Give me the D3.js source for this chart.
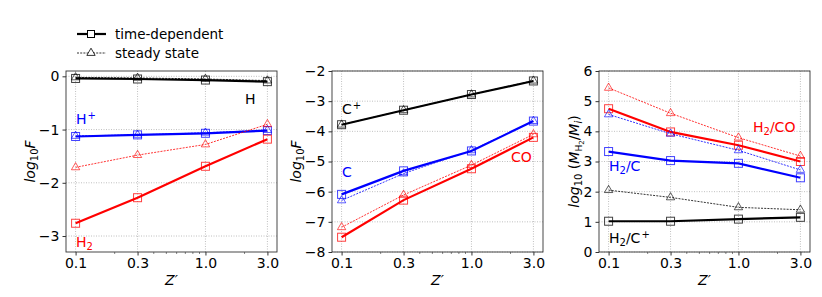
<!DOCTYPE html>
<html lang="en">
<head>
<meta charset="UTF-8">
<script src="https://cdn.jsdelivr.net/npm/d3@7"></script>
<style>
    body { margin: 0; background: white; }
    svg text { font-family: 'DejaVu Sans', sans-serif; }
    .grid line { stroke: #b0b0b0; stroke-width: 0.8px; stroke-dasharray: 1,1.5; }
</style>
</head>
<body>
<div id="chart"></div>
<script>
    // x values (Z')
    const zVals = [0.1, 0.3, 1.0, 3.0];
    const zTicks = ["0.1", "0.3", "1.0", "3.0"];

    // panel 1: log10 F of hydrogen species
    const H_td = [-0.04, -0.05, -0.07, -0.10];
    const H_ss = [-0.02, -0.03, -0.05, -0.08];
    const Hp_td = [-1.13, -1.10, -1.07, -1.02];
    const Hp_ss = [-1.12, -1.10, -1.06, -1.01];
    const H2_td = [-2.76, -2.28, -1.69, -1.18];
    const H2_ss = [-1.71, -1.48, -1.28, -0.90];

    // panel 2: log10 F of carbon species
    const Cp_td = [-3.78, -3.30, -2.78, -2.33];
    const Cp_ss = [-3.78, -3.30, -2.78, -2.32];
    const C_td = [-6.09, -5.31, -4.65, -3.66];
    const C_ss = [-6.29, -5.40, -4.63, -3.66];
    const CO_td = [-7.51, -6.28, -5.24, -4.20];
    const CO_ss = [-7.18, -6.11, -5.12, -4.10];

    // panel 3: log10 mass ratios
    const H2CO_td = [4.75, 3.98, 3.54, 3.00];
    const H2CO_ss = [5.44, 4.60, 3.79, 3.18];
    const H2C_td = [3.33, 3.03, 2.94, 2.46];
    const H2C_ss = [4.56, 3.92, 3.37, 2.72];
    const H2Cp_td = [1.02, 1.02, 1.09, 1.15];
    const H2Cp_ss = [2.05, 1.81, 1.48, 1.40];

    const panels = [
        {
            left: 66, right: 277, ydom: [-3.3, 0.1], yticks: [0, -1, -2, -3],
            series: [
                {td: H_td, ss: H_ss, color: "black"},
                {td: Hp_td, ss: Hp_ss, color: "blue"},
                {td: H2_td, ss: H2_ss, color: "red"}
            ],
            labels: [
                {t: "H", x: 245, y: 104, color: "black"},
                {t: "H", sup: "+", x: 76, y: 124, color: "blue"},
                {t: "H", sub: "2", x: 76, y: 247, color: "red"}
            ],
            ylab: "F", ylx: 30
        },
        {
            left: 332, right: 543, ydom: [-8, -2], yticks: [-2, -3, -4, -5, -6, -7, -8],
            series: [
                {td: Cp_td, ss: Cp_ss, color: "black"},
                {td: C_td, ss: C_ss, color: "blue"},
                {td: CO_td, ss: CO_ss, color: "red"}
            ],
            labels: [
                {t: "C", sup: "+", x: 342, y: 114, color: "black"},
                {t: "C", x: 342, y: 177, color: "blue"},
                {t: "CO", x: 511, y: 162, color: "red"}
            ],
            ylab: "F", ylx: 296
        },
        {
            left: 599, right: 810, ydom: [0, 6], yticks: [0, 1, 2, 3, 4, 5, 6],
            series: [
                {td: H2CO_td, ss: H2CO_ss, color: "red"},
                {td: H2C_td, ss: H2C_ss, color: "blue"},
                {td: H2Cp_td, ss: H2Cp_ss, color: "black"}
            ],
            labels: [
                {t: "H", sub: "2", rest: "/CO", x: 753, y: 132, color: "red"},
                {t: "H", sub: "2", rest: "/C", x: 609, y: 171, color: "blue"},
                {t: "H", sub: "2", rest: "/C", sup: "+", x: 609, y: 243, color: "black"}
            ],
            ylab: "M", ylx: 574
        }
    ];

    const plotTop = 71, plotBottom = 252;
    const fs = 14;
    const svg = d3.select("#chart").append("svg")
        .attr("width", 822).attr("height", 297);

    const lmin = Math.log10(0.1), lmax = Math.log10(3.0);
    const pad = (lmax - lmin) * 0.05;
    const minorTicks = [0.2, 0.4, 0.5, 0.6, 0.7, 0.8, 0.9, 2.0];

    function drawLabel(g, l) {
        const t = g.append("text").attr("x", l.x).attr("y", l.y)
            .attr("fill", l.color).attr("font-size", fs);
        t.append("tspan").text(l.t);
        if (l.sub) t.append("tspan").attr("font-size", 10).attr("dy", 3).text(l.sub);
        if (l.rest) t.append("tspan").attr("dy", l.sub ? -3 : 0).text(l.rest);
        if (l.sup) t.append("tspan").attr("font-size", 10).attr("dy", l.sub && !l.rest ? -8 : -5).attr("dx", 1).text(l.sup);
    }

    panels.forEach((p, pi) => {
        const x = d3.scaleLog()
            .domain([Math.pow(10, lmin - pad), Math.pow(10, lmax + pad)])
            .range([p.left, p.right]);
        const y = d3.scaleLinear().domain(p.ydom).range([plotBottom, plotTop]);
        const g = svg.append("g");

        // grid
        const grid = g.append("g").attr("class", "grid");
        grid.selectAll(".gx").data(zVals).enter().append("line")
            .attr("x1", d => x(d)).attr("x2", d => x(d))
            .attr("y1", plotTop).attr("y2", plotBottom);
        grid.selectAll(".gy").data(p.yticks).enter().append("line")
            .attr("x1", p.left).attr("x2", p.right)
            .attr("y1", d => y(d)).attr("y2", d => y(d));

        // series
        const line = d3.line().x((d, i) => x(zVals[i])).y(d => y(d));
        p.series.forEach(s => {
            g.append("path").datum(s.ss)
                .attr("d", line).attr("fill", "none")
                .attr("stroke", s.color).attr("stroke-width", 0.8)
                .attr("stroke-dasharray", "2,1.2");
            g.selectAll(null).data(s.ss).enter().append("path")
                .attr("transform", (d, i) => `translate(${x(zVals[i])},${y(d)})`)
                .attr("d", d3.symbol(d3.symbolTriangle, 30))
                .attr("fill", "none").attr("stroke", s.color).attr("stroke-width", 0.8)
                .attr("stroke-opacity", 0.8);
            g.append("path").datum(s.td)
                .attr("d", line).attr("fill", "none")
                .attr("stroke", s.color).attr("stroke-width", 2.2);
            g.selectAll(null).data(s.td).enter().append("rect")
                .attr("x", (d, i) => x(zVals[i]) - 4).attr("y", d => y(d) - 4)
                .attr("width", 8).attr("height", 8)
                .attr("fill", "none").attr("stroke", s.color).attr("stroke-width", 1)
                .attr("stroke-opacity", 0.75);
        });

        // frame
        g.append("rect").attr("x", p.left).attr("y", plotTop)
            .attr("width", p.right - p.left).attr("height", plotBottom - plotTop)
            .attr("fill", "none").attr("stroke", "#333").attr("stroke-width", 0.9);

        // x axis
        const xa = g.append("g").attr("transform", `translate(0,${plotBottom})`)
            .call(d3.axisBottom(x).tickValues(zVals).tickFormat((d, i) => zTicks[i])
                .tickSize(3.5).tickPadding(3));
        xa.select(".domain").remove();
        xa.selectAll("text").attr("font-size", fs).attr("fill", "black")
            .attr("font-family", "'DejaVu Sans', sans-serif");
        xa.selectAll("line").attr("stroke", "#333");
        g.selectAll(".minor").data(minorTicks).enter().append("line")
            .attr("x1", d => x(d)).attr("x2", d => x(d))
            .attr("y1", plotBottom).attr("y2", plotBottom + 2)
            .attr("stroke", "#333").attr("stroke-width", 0.6);

        // y axis
        const ya = g.append("g").attr("transform", `translate(${p.left},0)`)
            .call(d3.axisLeft(y).tickValues(p.yticks)
                .tickFormat(d => d < 0 ? "\u2212" + Math.abs(d) : d)
                .tickSize(3.5).tickPadding(3));
        ya.select(".domain").remove();
        ya.selectAll("text").attr("font-size", fs).attr("fill", "black")
            .attr("font-family", "'DejaVu Sans', sans-serif");
        ya.selectAll("line").attr("stroke", "#333");

        // x label
        g.append("text").attr("x", (p.left + p.right) / 2).attr("y", 285)
            .attr("text-anchor", "middle").attr("font-size", fs)
            .attr("font-style", "italic").text("Z\u2032");

        // y label
        const yl = g.append("text")
            .attr("transform", `translate(${p.ylx + 5},${(plotTop + plotBottom) / 2}) rotate(-90)`)
            .attr("text-anchor", "middle").attr("font-size", fs);
        if (p.ylab === "F") {
            yl.append("tspan").attr("font-style", "italic").text("log");
            yl.append("tspan").attr("font-size", 10).attr("dy", 3).text("10");
            yl.append("tspan").attr("font-style", "italic").attr("dy", -3).text("F");
        } else {
            yl.append("tspan").attr("font-style", "italic").text("log");
            yl.append("tspan").attr("font-size", 10).attr("dy", 3).text("10");
            yl.append("tspan").attr("dy", -3).text(" (");
            yl.append("tspan").attr("font-style", "italic").text("M");
            yl.append("tspan").attr("font-size", 9).attr("dy", 3).text("H");
            yl.append("tspan").attr("font-size", 7).attr("dy", 2).text("2");
            yl.append("tspan").attr("dy", -5).text("/");
            yl.append("tspan").attr("font-style", "italic").text("M");
            yl.append("tspan").attr("font-size", 10).attr("font-style", "italic").attr("dy", 3).text("i");
            yl.append("tspan").attr("dy", -3).text(")");
        }

        p.labels.forEach(l => drawLabel(g, l));
    });

    // legend
    const lg = svg.append("g");
    lg.append("line").attr("x1", 77).attr("x2", 106).attr("y1", 34).attr("y2", 34)
        .attr("stroke", "black").attr("stroke-width", 2.2);
    lg.append("rect").attr("x", 87.5).attr("y", 30.5).attr("width", 7).attr("height", 7)
        .attr("fill", "white").attr("stroke", "black").attr("stroke-width", 1);
    lg.append("text").attr("x", 115).attr("y", 39).attr("font-size", 13.5).text("time-dependent");
    lg.append("line").attr("x1", 77).attr("x2", 106).attr("y1", 53).attr("y2", 53)
        .attr("stroke", "black").attr("stroke-width", 0.8).attr("stroke-dasharray", "2,1.2");
    lg.append("path").attr("transform", "translate(91,53)")
        .attr("d", d3.symbol(d3.symbolTriangle, 30))
        .attr("fill", "white").attr("stroke", "black").attr("stroke-width", 0.8);
    lg.append("text").attr("x", 115).attr("y", 58).attr("font-size", 13.5).text("steady state");
</script>
</body>
</html>
